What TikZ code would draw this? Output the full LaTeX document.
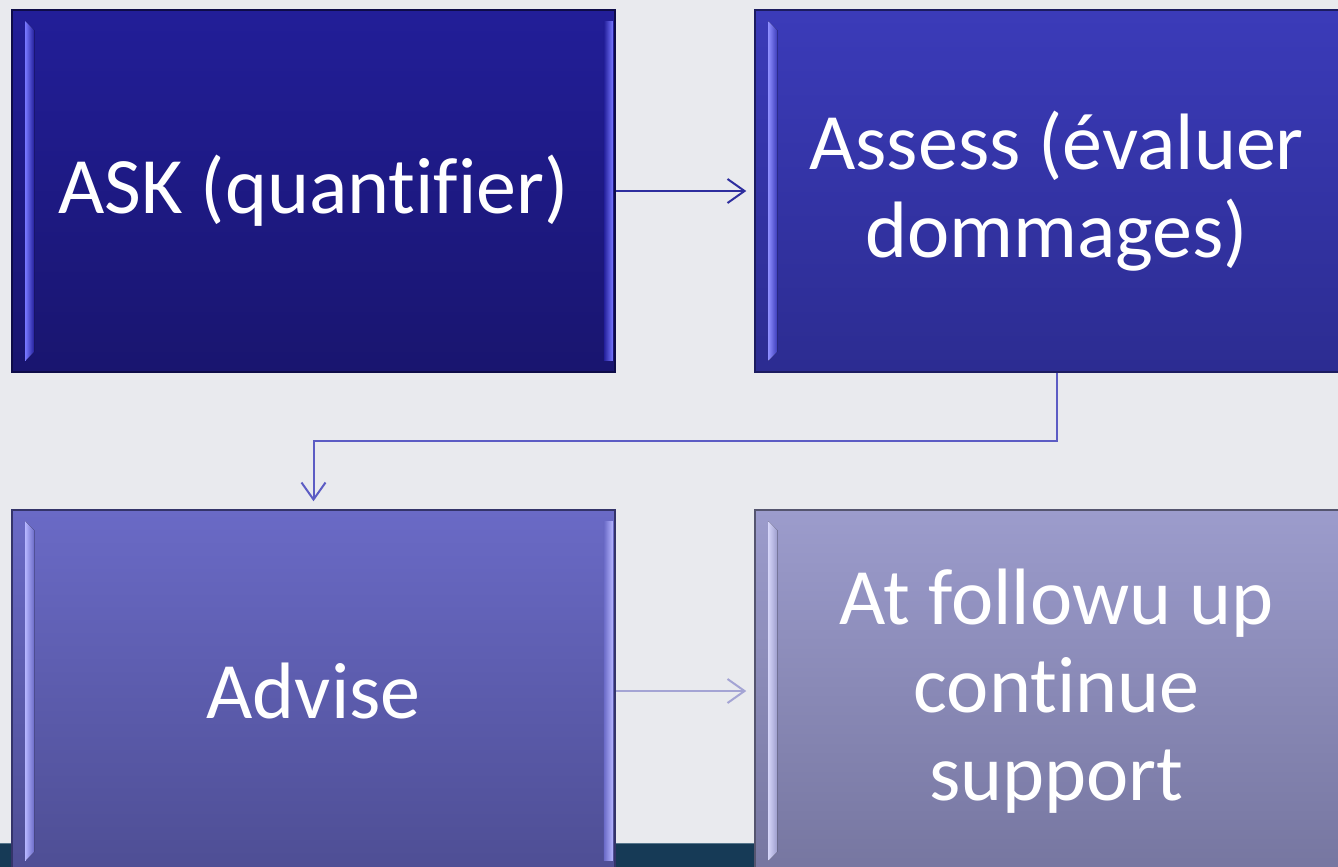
\documentclass[tikz,border=0pt]{standalone}
\usepackage{fontspec}
\setmainfont{Carlito}[Ligatures={NoCommon}]
\usetikzlibrary{arrows.meta,calc}
\definecolor{bg}{HTML}{E9EAEE}
\definecolor{strip}{HTML}{163A56}
\definecolor{stripline}{HTML}{56768C}
\definecolor{boxAtop}{HTML}{221E98}
\definecolor{boxAbot}{HTML}{19156F}
\definecolor{boxAlight}{HTML}{7676FF}
\definecolor{boxAedge}{HTML}{0E0C48}
\definecolor{boxBtop}{HTML}{3B3BB9}
\definecolor{boxBbot}{HTML}{2C2C91}
\definecolor{boxBlight}{HTML}{8E8EFF}
\definecolor{boxBedge}{HTML}{1C1C60}
\definecolor{boxCtop}{HTML}{6A6AC6}
\definecolor{boxCbot}{HTML}{4E4E94}
\definecolor{boxClight}{HTML}{B4B4FF}
\definecolor{boxCedge}{HTML}{34346A}
\definecolor{boxDtop}{HTML}{9C9CCC}
\definecolor{boxDbot}{HTML}{7676A0}
\definecolor{boxDlight}{HTML}{D4D4F8}
\definecolor{boxDedge}{HTML}{55556F}
\definecolor{arrA}{HTML}{2E2E9E}
\definecolor{arrB}{HTML}{5C5CC4}
\definecolor{arrC}{HTML}{A4A4D4}
\newcommand{\mybevel}[3]{%
  \fill[left color=#2, right color=#3]
    ($(#1.north west)+(14,12)$) -- ($(#1.north west)+(23,21)$) --
    ($(#1.south west)+(23,-21)$) -- ($(#1.south west)+(14,-12)$) -- cycle;
  \fill[left color=#3, right color=#2]
    ($(#1.north east)+(-12,12)$) -- ($(#1.north east)+(-3,12)$) --
    ($(#1.south east)+(-3,-12)$) -- ($(#1.south east)+(-12,-12)$) -- cycle;
}
\begin{document}
\begin{tikzpicture}[x=1pt,y=-1pt,
  flowbox/.style={minimum width=603pt, minimum height=362pt, inner sep=0pt,
    align=center, text=white, font=\fontsize{80}{88}\selectfont, line width=1.5pt},
  conn/.style={line width=2pt, shorten >=8pt,
    -{Straight Barb[length=17pt,width=24pt]}}
]
\useasboundingbox (0,0) rectangle (1338,867);
\fill[bg] (0,0) rectangle (1338,867);
\fill[strip] (0,843) rectangle (1338,867);
\draw[stripline, line width=1pt] (0,843.5) -- (1338,843.5);

\node[flowbox, draw=boxAedge, top color=boxAtop, bottom color=boxAbot] (ask) at (313.5,191) {ASK (quantifier)};
\node[flowbox, draw=boxBedge, top color=boxBtop, bottom color=boxBbot] (assess) at (1056.5,191) {Assess (évaluer\\dommages)};
\node[flowbox, draw=boxCedge, top color=boxCtop, bottom color=boxCbot] (advise) at (313.5,691) {Advise};
\node[flowbox, draw=boxDedge, top color=boxDtop, bottom color=boxDbot] (follow) at (1056.5,691) {At followu up\\continue\\support};

\mybevel{ask}{boxAlight}{boxAtop}
\mybevel{assess}{boxBlight}{boxBtop}
\mybevel{advise}{boxClight}{boxCtop}
\mybevel{follow}{boxDlight}{boxDtop}

\draw[conn, arrA] (ask) -- (assess);
\draw[conn, arrB] (assess.south) -- ++(0,68) -| (advise.north);
\draw[conn, arrC] (advise) -- (follow);
\end{tikzpicture}
\end{document}
